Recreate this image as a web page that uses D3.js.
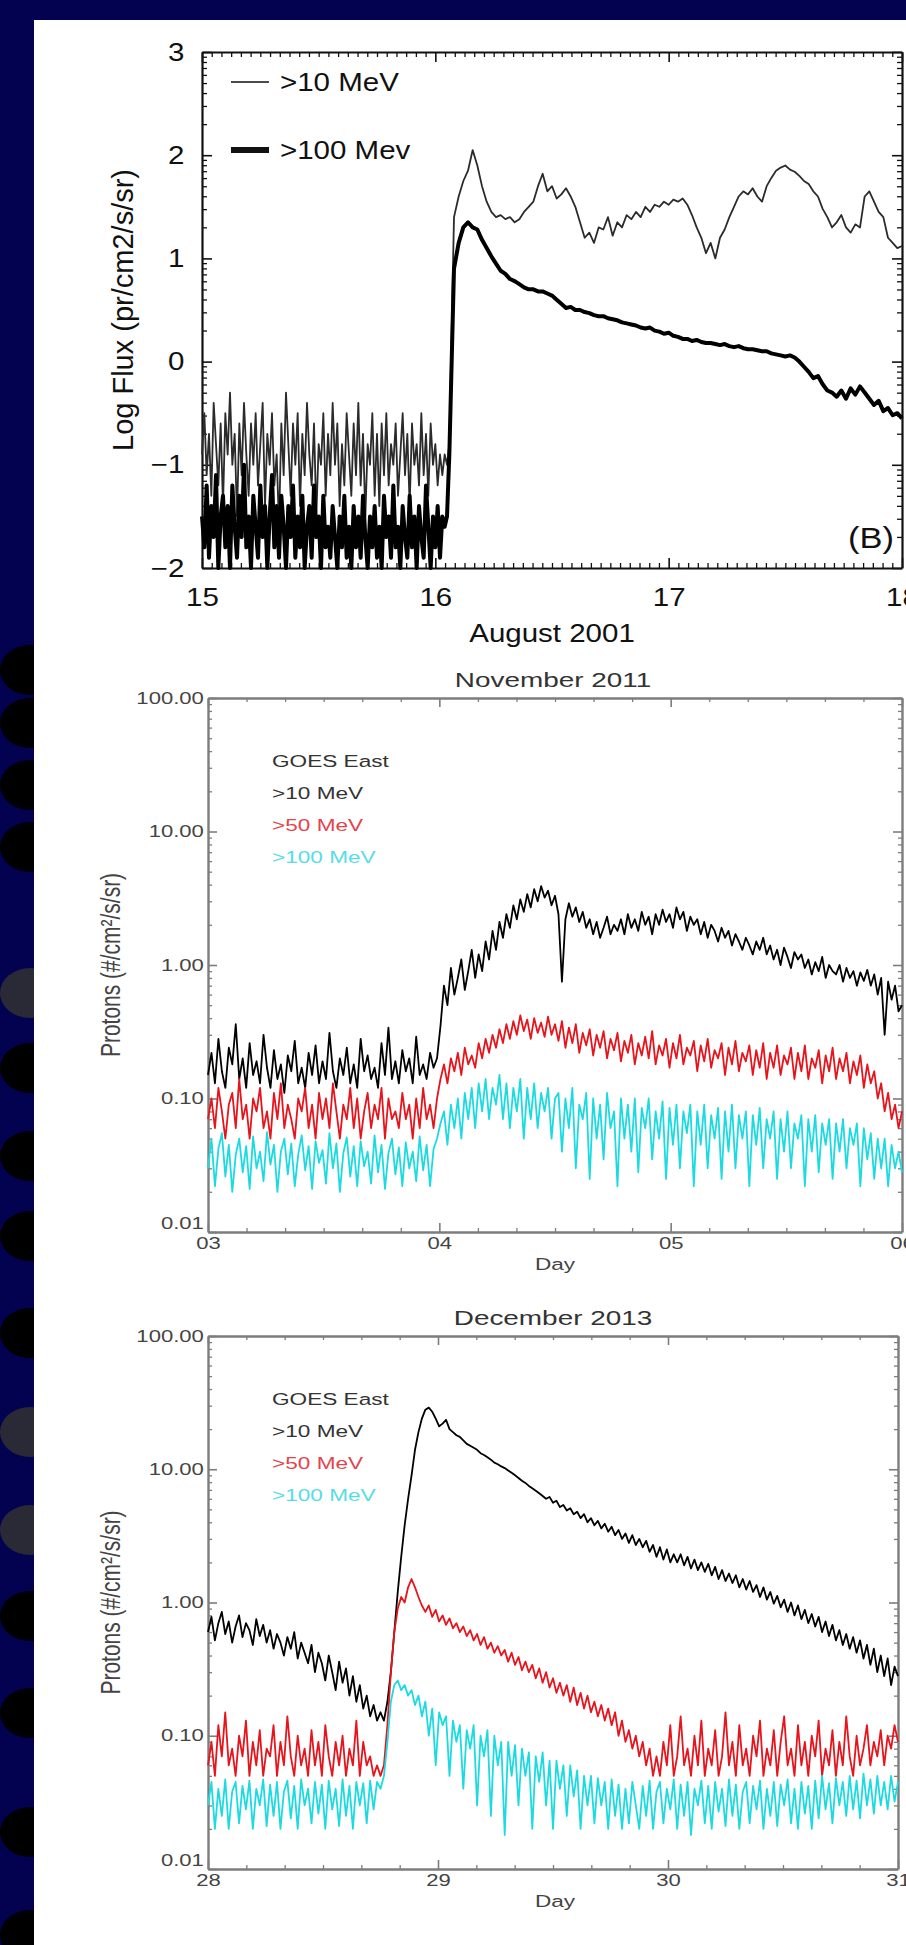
<!DOCTYPE html>
<html>
<head>
<meta charset="utf-8">
<script src="https://cdn.jsdelivr.net/npm/d3@7"></script>
<style>
html, body { margin: 0; padding: 0; background: #020250; }
svg { display: block; }
</style>
</head>
<body>
<svg id="chart" width="906" height="1945"></svg>
<script>
// ---------- August 2001, log10 flux ----------
// quiet period sampled every 0.01 day, event every 0.02 day
var augPreStart = 15.0, augPreStep = 0.01;
var augPostStart = 16.06, augPostStep = 0.02;
var aug10Pre = [-0.9,-0.5,-1.1,-0.7,-1.3,-0.4,-0.8,-1.2,-0.6,-1.4,
  -0.5,-0.9,-0.3,-1.0,-0.7,-1.5,-0.6,-1.1,-0.4,-0.9,
  -1.3,-0.6,-1.0,-0.5,-1.2,-0.8,-0.4,-1.4,-0.7,-1.0,
  -0.5,-1.2,-0.9,-1.6,-0.6,-1.1,-0.3,-0.8,-1.3,-0.6,
  -1.0,-0.5,-1.4,-0.7,-1.1,-0.4,-0.9,-1.2,-0.6,-1.5,
  -0.8,-1.0,-0.5,-1.3,-0.7,-1.1,-0.4,-1.0,-0.6,-1.4,
  -0.8,-1.2,-0.5,-0.9,-1.3,-0.6,-1.1,-0.4,-1.2,-0.7,
  -1.5,-0.8,-1.0,-0.5,-1.3,-0.7,-1.4,-0.6,-1.1,-0.5,
  -1.2,-0.8,-1.0,-0.6,-1.3,-0.9,-0.5,-1.1,-0.7,-1.4,
  -0.6,-1.0,-0.8,-1.2,-0.5,-1.1,-0.7,-1.3,-0.6,-1.0,
  -0.8,-1.2,-0.9,-1.1,-0.9,-1.0];
var aug100Pre = [-1.5,-1.8,-1.2,-1.9,-1.4,-1.7,-1.1,-2.0,-1.5,-1.3,
  -1.8,-1.4,-2.0,-1.2,-1.6,-1.9,-1.3,-1.7,-1.0,-1.8,
  -1.5,-2.0,-1.3,-1.6,-1.9,-1.2,-1.7,-1.4,-2.0,-1.5,
  -1.1,-1.8,-1.4,-1.9,-1.3,-1.6,-2.0,-1.4,-1.7,-1.2,
  -1.9,-1.5,-1.8,-1.3,-2.0,-1.6,-1.4,-1.9,-1.2,-1.7,
  -1.5,-2.0,-1.3,-1.8,-1.6,-1.9,-1.4,-1.7,-2.0,-1.5,
  -1.8,-1.3,-1.9,-1.6,-2.0,-1.4,-1.8,-1.5,-1.9,-1.3,
  -1.7,-2.0,-1.5,-1.8,-1.4,-1.9,-1.6,-2.0,-1.3,-1.7,
  -1.5,-1.9,-1.2,-1.8,-1.6,-2.0,-1.4,-1.7,-1.9,-1.3,
  -1.8,-1.5,-2.0,-1.4,-1.7,-1.9,-1.2,-1.6,-2.0,-1.5,
  -1.8,-1.4,-1.9,-1.5,-1.6,-1.5];
var aug10Post = [-0.8,1.4,1.6,1.75,1.85,2.05,1.9,1.7,1.55,1.45,
  1.4,1.42,1.38,1.4,1.35,1.38,1.45,1.5,1.55,1.7,
  1.82,1.65,1.7,1.58,1.62,1.68,1.6,1.5,1.35,1.2,
  1.25,1.15,1.3,1.28,1.4,1.22,1.35,1.3,1.42,1.38,
  1.45,1.4,1.5,1.45,1.52,1.5,1.55,1.52,1.57,1.55,
  1.58,1.52,1.42,1.3,1.2,1.05,1.15,1.0,1.2,1.28,
  1.4,1.5,1.6,1.65,1.62,1.68,1.6,1.55,1.7,1.78,
  1.85,1.88,1.9,1.86,1.84,1.8,1.75,1.72,1.65,1.6,
  1.48,1.4,1.3,1.35,1.42,1.3,1.25,1.33,1.3,1.6,
  1.65,1.55,1.45,1.4,1.2,1.15,1.1,1.12];
var aug100Post = [-0.9,0.9,1.15,1.3,1.35,1.3,1.28,1.18,1.1,1.02,
  0.95,0.88,0.85,0.8,0.78,0.75,0.72,0.7,0.7,0.68,
  0.68,0.66,0.64,0.6,0.56,0.52,0.53,0.5,0.5,0.48,
  0.47,0.45,0.44,0.44,0.42,0.41,0.4,0.38,0.37,0.36,
  0.35,0.33,0.32,0.33,0.3,0.29,0.27,0.28,0.25,0.24,
  0.22,0.22,0.2,0.21,0.19,0.18,0.18,0.17,0.16,0.17,
  0.15,0.14,0.15,0.13,0.12,0.12,0.11,0.1,0.1,0.08,
  0.07,0.06,0.05,0.06,0.04,0.0,-0.05,-0.1,-0.16,-0.14,
  -0.22,-0.28,-0.3,-0.34,-0.28,-0.36,-0.26,-0.32,-0.24,-0.3,
  -0.36,-0.42,-0.38,-0.48,-0.45,-0.52,-0.5,-0.55];
var augDays = [15, 16, 17, 18];
var augLogTicks = [-2, -1, 0, 1, 2, 3];
var augLegend = [">10 MeV", ">100 Mev"];

// ---------- GOES East protons, one value every 0.015 day ----------
var goesStep = 0.015;
var nov10 = [0.15,0.22,0.13,0.28,0.16,0.12,0.24,0.18,0.36,0.14,0.2,0.12,0.26,0.15,0.19,0.13,0.3,0.17,0.12,0.23,
  0.14,0.18,0.11,0.21,0.16,0.27,0.13,0.17,0.12,0.22,0.15,0.25,0.13,0.19,0.14,0.31,0.16,0.12,0.2,0.15,
  0.24,0.13,0.18,0.12,0.28,0.16,0.21,0.14,0.17,0.12,0.26,0.15,0.34,0.14,0.19,0.13,0.23,0.16,0.2,0.13,
  0.29,0.15,0.18,0.14,0.22,0.17,0.2,
  0.35,0.7,0.5,0.95,0.6,0.8,1.1,0.65,0.9,1.3,0.8,1.2,0.9,1.5,1.1,1.8,1.3,2.1,1.6,2.4,
  1.9,2.8,2.2,3.1,2.5,3.4,2.7,3.7,3.0,3.9,3.2,3.6,2.8,3.3,
  2.4,0.75,2.2,2.9,2.3,2.7,2.1,2.5,1.9,2.2,
  1.7,2.1,1.6,1.9,2.3,1.7,2.0,1.8,2.2,1.7,
  2.4,1.9,2.2,1.8,2.5,2.0,2.3,1.7,2.4,2.0,
  2.6,2.1,2.4,1.9,2.7,2.2,2.5,1.8,2.3,2.0,
  2.2,1.7,2.1,1.6,2.0,1.8,1.5,1.9,1.6,1.8,
  1.4,1.7,1.5,1.3,1.6,1.4,1.2,1.5,1.3,1.6,
  1.2,1.4,1.1,1.3,1.0,1.35,1.15,0.95,1.25,1.1,
  1.2,0.95,1.1,0.85,1.05,0.9,1.15,0.8,1.0,0.9,
  0.85,1.0,0.75,0.95,0.8,0.9,0.7,0.88,0.76,0.92,
  0.7,0.85,0.6,0.8,0.3,0.75,0.55,0.7,0.45,0.5];
var nov50 = [0.07,0.1,0.06,0.12,0.08,0.05,0.09,0.11,0.06,0.14,
  0.07,0.09,0.05,0.1,0.08,0.12,0.06,0.08,0.05,0.11,
  0.07,0.13,0.06,0.09,0.07,0.05,0.1,0.08,0.12,0.06,
  0.09,0.05,0.11,0.07,0.1,0.06,0.13,0.08,0.05,0.09,
  0.07,0.12,0.06,0.1,0.05,0.08,0.11,0.06,0.09,0.07,
  0.12,0.05,0.1,0.07,0.08,0.06,0.11,0.07,0.09,0.05,
  0.1,0.06,0.12,0.07,0.09,0.06,0.1,
  0.14,0.18,0.13,0.2,0.16,0.22,0.15,0.24,0.18,0.21,
  0.17,0.26,0.2,0.28,0.22,0.3,0.24,0.33,0.26,0.36,
  0.28,0.38,0.3,0.42,0.32,0.39,0.28,0.4,0.31,0.37,
  0.29,0.41,0.3,0.36,
  0.27,0.38,0.24,0.34,0.26,0.36,0.22,0.31,0.25,0.33,
  0.21,0.3,0.24,0.32,0.2,0.28,0.23,0.31,0.19,0.27,
  0.22,0.3,0.18,0.26,0.21,0.29,0.2,0.32,0.18,0.25,
  0.21,0.28,0.17,0.26,0.2,0.3,0.18,0.24,0.21,0.27,
  0.16,0.25,0.19,0.28,0.17,0.23,0.2,0.26,0.15,0.24,
  0.18,0.27,0.16,0.22,0.19,0.25,0.15,0.23,0.17,0.26,
  0.14,0.22,0.17,0.25,0.15,0.21,0.18,0.24,0.14,0.22,
  0.16,0.25,0.14,0.2,0.17,0.23,0.13,0.21,0.16,0.24,
  0.14,0.2,0.16,0.22,0.13,0.19,0.15,0.21,0.12,0.18,
  0.13,0.16,0.1,0.13,0.08,0.11,0.07,0.09,0.06,0.08];
var nov100 = [0.03,0.05,0.022,0.042,0.055,0.026,0.045,0.02,0.038,0.05,
  0.028,0.044,0.021,0.052,0.03,0.04,0.024,0.056,0.032,0.045,
  0.02,0.04,0.05,0.027,0.046,0.022,0.038,0.053,0.029,0.044,
  0.021,0.048,0.033,0.041,0.023,0.055,0.03,0.046,0.02,0.039,
  0.051,0.026,0.044,0.022,0.048,0.031,0.04,0.023,0.053,0.028,
  0.045,0.021,0.039,0.05,0.027,0.043,0.022,0.047,0.03,0.04,
  0.024,0.052,0.029,0.045,0.022,0.042,0.05,
  0.065,0.08,0.045,0.09,0.06,0.1,0.05,0.11,0.07,0.12,
  0.06,0.13,0.08,0.14,0.07,0.12,0.09,0.15,0.07,0.13,
  0.06,0.12,0.08,0.14,0.05,0.12,0.07,0.13,0.06,0.11,
  0.08,0.12,0.05,0.1,
  0.11,0.04,0.1,0.06,0.12,0.03,0.09,0.07,0.11,0.025,
  0.1,0.05,0.09,0.035,0.11,0.06,0.08,0.022,0.1,0.05,
  0.09,0.04,0.1,0.028,0.085,0.06,0.1,0.035,0.08,0.05,
  0.095,0.025,0.085,0.045,0.09,0.03,0.08,0.055,0.09,0.022,
  0.08,0.045,0.09,0.03,0.075,0.05,0.085,0.025,0.08,0.04,
  0.09,0.03,0.075,0.05,0.08,0.022,0.075,0.045,0.085,0.03,
  0.07,0.05,0.08,0.025,0.07,0.04,0.08,0.03,0.065,0.05,
  0.075,0.022,0.07,0.04,0.075,0.028,0.065,0.045,0.07,0.025,
  0.065,0.04,0.07,0.03,0.06,0.045,0.065,0.022,0.06,0.035,
  0.055,0.025,0.05,0.03,0.05,0.022,0.045,0.03,0.04,0.028];
var dec10 = [0.6,0.78,0.52,0.7,0.85,0.58,0.72,0.5,0.66,0.8,
  0.55,0.7,0.62,0.48,0.75,0.56,0.68,0.5,0.62,0.45,
  0.58,0.5,0.4,0.55,0.45,0.6,0.38,0.5,0.42,0.35,
  0.48,0.3,0.42,0.35,0.26,0.4,0.3,0.22,0.36,0.25,
  0.32,0.2,0.28,0.18,0.24,0.16,0.2,0.14,0.17,0.13,
  0.15,0.13,0.18,0.3,0.6,1.2,2.2,3.8,6,9,14,19,24,28,29,27,
  24,21,22,23.5,20,19,18,17.5,16.5,15.5,
  15,14.5,14,13.2,12.8,12.3,11.8,11.2,10.9,10.5,
  10.2,9.8,9.4,9.0,8.6,8.2,7.9,7.5,7.2,6.9,
  6.6,6.3,6.0,6.2,5.6,5.8,5.2,5.4,4.9,5.1,
  4.6,4.8,4.3,4.6,4.0,4.3,3.8,4.1,3.6,3.9,
  3.4,3.7,3.2,3.5,3.0,3.3,2.8,3.2,2.7,3.0,
  2.6,2.9,2.4,2.7,2.2,2.6,2.1,2.5,2.0,2.3,
  2.0,2.3,1.9,2.2,1.8,2.1,1.75,2.0,1.7,1.95,
  1.6,1.85,1.5,1.75,1.45,1.65,1.4,1.6,1.3,1.5,
  1.25,1.45,1.2,1.35,1.1,1.3,1.05,1.2,0.98,1.12,
  0.92,1.05,0.85,1.0,0.8,0.95,0.75,0.88,0.7,0.82,
  0.66,0.78,0.6,0.72,0.56,0.68,0.52,0.62,0.48,0.58,
  0.45,0.55,0.42,0.52,0.38,0.48,0.34,0.45,0.3,0.4,
  0.28,0.38,0.24,0.33,0.28];
var dec50 = [0.06,0.09,0.05,0.12,0.07,0.15,0.06,0.08,0.05,0.1,
  0.07,0.13,0.05,0.09,0.06,0.11,0.05,0.08,0.07,0.12,
  0.05,0.09,0.06,0.14,0.07,0.05,0.1,0.06,0.08,0.05,
  0.11,0.06,0.09,0.05,0.12,0.07,0.05,0.09,0.06,0.1,
  0.05,0.08,0.06,0.13,0.05,0.09,0.06,0.07,0.05,0.06,
  0.05,
  0.06,0.12,0.3,0.6,0.9,1.1,1.0,1.3,1.5,1.3,1.1,0.95,
  0.85,0.95,0.78,0.88,0.72,0.8,0.68,0.76,0.64,0.7,
  0.6,0.66,0.56,0.62,0.52,0.58,0.48,0.55,0.45,0.5,
  0.42,0.47,0.4,0.44,0.36,0.42,0.34,0.39,0.31,0.36,
  0.3,0.34,0.27,0.32,0.25,0.3,0.23,0.27,0.21,0.25,
  0.2,0.24,0.18,0.23,0.17,0.21,0.16,0.2,0.15,0.18,
  0.14,0.17,0.13,0.16,0.12,0.15,0.1,0.13,0.09,0.11,
  0.08,0.1,0.07,0.09,0.06,0.08,0.05,0.07,
  0.05,0.09,0.06,0.12,0.05,0.07,0.14,0.06,0.08,0.05,
  0.1,0.06,0.13,0.05,0.08,0.06,0.11,0.05,0.07,0.15,
  0.06,0.09,0.05,0.12,0.06,0.08,0.05,0.1,0.07,0.13,
  0.05,0.08,0.06,0.11,0.05,0.09,0.14,0.06,0.08,0.05,
  0.12,0.06,0.09,0.05,0.1,0.07,0.13,0.05,0.08,0.06,
  0.11,0.05,0.09,0.06,0.14,0.07,0.05,0.1,0.06,0.08,
  0.12,0.06,0.09,0.07,0.11,0.06,0.1,0.08,0.12,0.09];
var dec100 = [0.03,0.045,0.02,0.04,0.025,0.047,0.02,0.038,0.045,0.022,
  0.042,0.028,0.046,0.02,0.04,0.03,0.047,0.021,0.043,0.025,
  0.045,0.02,0.038,0.046,0.024,0.042,0.02,0.047,0.03,0.04,
  0.022,0.045,0.026,0.043,0.02,0.046,0.028,0.04,0.021,0.047,
  0.025,0.042,0.02,0.045,0.03,0.044,0.022,0.046,0.028,0.045,
  0.04,0.05,
  0.09,0.18,0.24,0.26,0.22,0.24,0.2,0.22,0.17,
  0.2,0.14,0.18,0.1,0.16,0.06,0.15,0.12,0.14,0.05,
  0.13,0.09,0.12,0.04,0.11,0.08,0.12,0.03,0.1,0.07,
  0.11,0.025,0.1,0.06,0.09,0.018,0.09,0.05,0.085,0.03,
  0.08,0.05,0.075,0.02,0.07,0.045,0.075,0.03,0.065,0.02,
  0.065,0.04,0.06,0.025,0.06,0.035,0.055,0.02,0.05,0.03,
  0.05,0.022,0.048,0.03,0.045,0.02,0.047,0.025,0.043,0.02,
  0.04,0.022,0.045,0.03,0.02,0.042,0.025,0.046,0.02,0.038,
  0.045,0.022,0.04,0.028,0.047,0.02,0.043,0.025,0.045,0.018,
  0.04,0.03,0.046,0.022,0.042,0.02,0.045,0.027,0.04,0.021,
  0.047,0.025,0.043,0.02,0.038,0.045,0.022,0.042,0.028,0.046,
  0.02,0.04,0.025,0.045,0.021,0.043,0.03,0.047,0.022,0.04,
  0.02,0.045,0.026,0.042,0.02,0.046,0.024,0.05,0.028,0.044,
  0.022,0.048,0.03,0.045,0.025,0.05,0.028,0.046,0.024,0.052,
  0.03,0.047,0.026,0.05,0.03,0.045,0.028,0.05,0.032,0.045];
var novDays = [3, 4, 5, 6];
var decDays = [28, 29, 30, 31];
var protonTicks = [0.01, 0.1, 1, 10, 100];
var goesLegend = ["GOES East", ">10 MeV", ">50 MeV", ">100 MeV"];

// slide decoration down the left edge
var sideDots = [670, 723, 785, 847, 993, 1068, 1156, 1236, 1333, 1432, 1530, 1616, 1713, 1832, 1935];
var greyDots = [993, 1432, 1530];

var FONT = "'Liberation Sans', Arial, Helvetica, sans-serif";
var svg = d3.select("#chart");

svg.append("rect").attr("width", 906).attr("height", 1945).attr("fill", "#020250");
svg.selectAll(".sdot")
    .data(sideDots)
  .enter().append("ellipse")
    .attr("cx", 30).attr("cy", function (d) { return d; })
    .attr("rx", 30).attr("ry", 25)
    .attr("fill", function (d) { return greyDots.indexOf(d) >= 0 ? "#2a2a36" : "#000"; });
svg.append("rect").attr("x", 34).attr("y", 20).attr("width", 872).attr("height", 1925).attr("fill", "#fff");

function toPoints(vals, start, step) {
  return vals.map(function (v, i) { return {t: start + i * step, v: v}; });
}

function addText(x, y, txt, size, sx, anchor, fill, rot) {
  return svg.append("text")
    .attr("transform", "translate(" + x + "," + y + ") scale(" + sx + ",1)" + (rot ? " rotate(" + rot + ")" : ""))
    .attr("text-anchor", anchor)
    .attr("font-family", FONT)
    .attr("font-size", size)
    .attr("fill", fill)
    .text(txt);
}

// four-sided frame with major + minor ticks, labels only bottom and left
function drawFrame(x, y, c) {
  var bottom = y.range()[0], top = y.range()[1], left = x.range()[0], right = x.range()[1];
  var sides = [
    {make: d3.axisBottom, s: x, major: c.xMajor, minor: c.xMinor, tr: "translate(0," + bottom + ")", lab: true, pad: c.xPad},
    {make: d3.axisTop, s: x, major: c.xMajor, minor: c.xMinor, tr: "translate(0," + top + ")", lab: false},
    {make: d3.axisLeft, s: y, major: c.yMajor, minor: c.yMinor, tr: "translate(" + left + ",0)", lab: true, pad: c.yPad},
    {make: d3.axisRight, s: y, major: c.yMajor, minor: c.yMinor, tr: "translate(" + right + ",0)", lab: false}
  ];
  sides.forEach(function (sd, i) {
    var mg = svg.append("g").attr("transform", sd.tr).attr("color", c.color)
      .call(sd.make(sd.s).tickValues(sd.minor).tickSize(-c.minorLen).tickFormat(""));
    mg.select(".domain").remove();
    mg.selectAll(".tick line").attr("stroke-width", 1.3);

    var ax = sd.make(sd.s).tickValues(sd.major).tickSize(-c.majorLen).tickSizeOuter(0);
    if (sd.lab) ax.tickPadding(sd.pad).tickFormat(i === 0 ? c.xFormat : c.yFormat);
    else ax.tickFormat("");
    var g = svg.append("g").attr("transform", sd.tr).attr("color", c.color).call(ax);
    g.select(".domain").attr("stroke-width", c.domainW);
    g.selectAll(".tick line").attr("stroke-width", 1.6);
    g.selectAll("text")
      .attr("font-family", FONT)
      .attr("font-size", c.fontSize)
      .attr("fill", c.textColor)
      .attr("transform", "scale(" + c.sx + ",1)");
    if (i === 2 && c.lowShift) {
      g.selectAll(".tick text").filter(function (d) { return d === sd.major[0]; })
        .attr("y", -c.lowShift);
    }
  });
}

// ================= panel 1 : August 2001 =================
var x1 = d3.scaleLinear().domain([15, 18]).range([202, 902]);
var y1 = d3.scaleLinear().domain([-2, 3]).range([568, 52]);

var augHours = d3.range(0, 73).map(function (i) { return 15 + i / 24; })
  .filter(function (d) { return augDays.indexOf(d) < 0; });
var augMinorY = [];
augLogTicks.slice(0, -1).forEach(function (n) {
  for (var k = 2; k < 10; k++) augMinorY.push(n + Math.log10(k));
});

drawFrame(x1, y1, {
  color: "#111", textColor: "#111", domainW: 2.2, majorLen: 10, minorLen: 5,
  xMajor: augDays, xMinor: augHours, yMajor: augLogTicks, yMinor: augMinorY,
  xPad: 20, yPad: 15, fontSize: 25, sx: 1.18,
  xFormat: d3.format("d"), yFormat: d3.format("d")
});

var line1 = d3.line().x(function (d) { return x1(d.t); }).y(function (d) { return y1(d.v); });
var aug10 = toPoints(aug10Pre, augPreStart, augPreStep).concat(toPoints(aug10Post, augPostStart, augPostStep));
var aug100 = toPoints(aug100Pre, augPreStart, augPreStep).concat(toPoints(aug100Post, augPostStart, augPostStep));

svg.append("path").datum(aug10).attr("d", line1)
  .attr("fill", "none").attr("stroke", "#2b2b2b").attr("stroke-width", 1.8).attr("stroke-linejoin", "round");
svg.append("path").datum(aug100).attr("d", line1)
  .attr("fill", "none").attr("stroke", "#000").attr("stroke-width", 4).attr("stroke-linejoin", "round");

// legend
[{w: 1.6, y: 82}, {w: 6, y: 150}].forEach(function (l, i) {
  svg.append("line").attr("x1", 231).attr("x2", 269).attr("y1", l.y).attr("y2", l.y)
    .attr("stroke", "#111").attr("stroke-width", l.w);
  addText(280, l.y + 9, augLegend[i], 25, 1.18, "start", "#111");
});
addText(871, 548, "(B)", 30, 1.15, "middle", "#111");
addText(552, 642, "August 2001", 25, 1.18, "middle", "#111");
addText(123, 310, "Log Flux (pr/cm2/s/sr)", 29, 1, "middle", "#111", -90).attr("dy", "0.35em");

// ================= panels 2 and 3 : GOES East =================
function logPanel(p) {
  var x = d3.scaleLinear().domain([p.days[0], p.days[p.days.length - 1]]).range([p.left, p.right]);
  var y = d3.scaleLog().domain([0.01, 100]).range([p.bottom, p.top]);

  var fourHours = d3.range(0, 19).map(function (i) { return p.days[0] + i / 6; })
    .filter(function (d) { return Math.abs(d - Math.round(d)) > 0.01; });
  var minorY = [];
  protonTicks.slice(0, -1).forEach(function (d) {
    for (var k = 2; k < 10; k++) minorY.push(d * k);
  });

  drawFrame(x, y, {
    color: "#7d7d7d", textColor: "#444", domainW: 2.4, majorLen: 9, minorLen: 4,
    xMajor: p.days, xMinor: fourHours, yMajor: protonTicks, yMinor: minorY,
    xPad: 6, yPad: 3, fontSize: 16, sx: 1.38, lowShift: 9,
    xFormat: d3.format("02d"), yFormat: d3.format(".2f")
  });

  var line = d3.line().x(function (d) { return x(d.t); }).y(function (d) { return y(d.v); });
  p.series.forEach(function (s) {
    svg.append("path").datum(toPoints(s.vals, p.days[0], goesStep)).attr("d", line)
      .attr("fill", "none").attr("stroke", s.color).attr("stroke-width", 1.8)
      .attr("stroke-linejoin", "round");
  });

  addText(553, p.top - 11, p.title, 21, 1.33, "middle", "#333");
  addText(555, p.bottom + 38, "Day", 17, 1.33, "middle", "#444");
  addText(110, (p.top + p.bottom) / 2, "Protons (#/cm\u00b2/s/sr)", 21, 1.33, "middle", "#444", -90)
    .attr("dy", "0.35em");

  var legendFill = ["#333", "#333", "#e4434b", "#55dde6"];
  goesLegend.forEach(function (t, i) {
    addText(272, p.top + 69 + i * 32, t, 17, 1.33, "start", legendFill[i]);
  });
}

logPanel({
  title: "November 2011", days: novDays, left: 208, right: 902, top: 698, bottom: 1232,
  series: [
    {vals: nov10, color: "#000"},
    {vals: nov50, color: "#e8141c"},
    {vals: nov100, color: "#1cdbe0"}
  ]
});
logPanel({
  title: "December 2013", days: decDays, left: 208, right: 898, top: 1336, bottom: 1869,
  series: [
    {vals: dec10, color: "#000"},
    {vals: dec50, color: "#e8141c"},
    {vals: dec100, color: "#1cdbe0"}
  ]
});
</script>
</body>
</html>
